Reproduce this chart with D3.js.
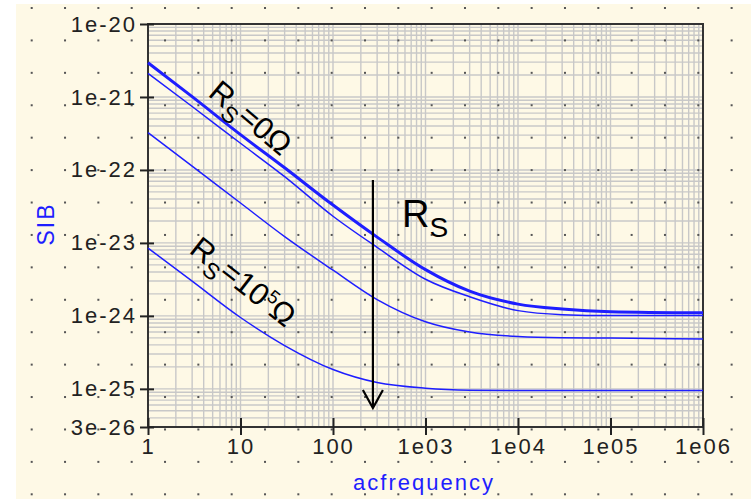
<!DOCTYPE html>
<html>
<head>
<meta charset="utf-8">
<script src="https://cdn.jsdelivr.net/npm/d3@7"></script>
<style>
  body { margin: 0; background: #fff; }
  svg { display: block; }
  text { font-family: "Liberation Sans", Arial, sans-serif; }
</style>
</head>
<body>
<div id="chart"></div>
<script>
// values
var freqs = [1, 3, 10, 30, 100, 300, 1e3, 3e3, 1e4, 3e4, 1e5, 1e6];
var sibRs0 = [2.95e-21, 1.01e-21, 3.05e-22, 1.07e-22, 3.3e-23, 1.2e-23, 4.3e-24, 2.18e-24, 1.45e-24, 1.24e-24, 1.14e-24, 1.10e-24];
var sibRs1 = [2.11e-21, 7.4e-22, 2.32e-22, 8.1e-23, 2.32e-23, 8.7e-24, 3.18e-24, 1.83e-24, 1.18e-24, 1.04e-24, 1.01e-24, 1.01e-24];
var sibRs2 = [3.25e-22, 1.13e-22, 3.52e-23, 1.22e-23, 4.23e-24, 1.67e-24, 8.3e-25, 6.0e-25, 5.2e-25, 5.0e-25, 4.96e-25, 4.83e-25];
var sibRs3 = [8.5e-24, 2.99e-24, 9.5e-25, 3.92e-25, 1.84e-25, 1.22e-25, 1.02e-25, 9.6e-26, 9.5e-26, 9.5e-26, 9.5e-26, 9.48e-26];
var seriesWidths = [3, 1.5, 1.5, 1.5];

var xTickVals = [1, 10, 100, 1e3, 1e4, 1e5, 1e6];
var xTickLabels = ["1", "10", "100", "1e03", "1e04", "1e05", "1e06"];
var yTickVals = [1e-20, 1e-21, 1e-22, 1e-23, 1e-24, 1e-25, 3e-26];
var yTickLabels = ["1e-20", "1e-21", "1e-22", "1e-23", "1e-24", "1e-25", "3e-26"];

const WIDTH = 751;
const HEIGHT = 499;
var plot = {left: 148, right: 703, top: 24, bottom: 427};
var cream = "#fef9e6";
var blue = "#1e1eff";

var svg = d3.select("#chart").append("svg")
    .attr("width", WIDTH)
    .attr("height", HEIGHT);

svg.append("rect")
    .attr("x", 16).attr("y", 4)
    .attr("width", WIDTH - 16).attr("height", HEIGHT - 4)
    .attr("fill", cream);

var x = d3.scaleLog().domain([1, 1e6]).range([plot.left, plot.right]);
var y = d3.scaleLog().domain([3e-26, 1e-20]).range([plot.bottom, plot.top]);

// grid: every 1..9 multiple of each decade
var xGrid = [];
for (var e = 0; e < 6; e++)
    for (var m = 1; m < 10; m++) xGrid.push(m * Math.pow(10, e));
var yGrid = [];
for (var e = -26; e < -20; e++)
    for (var m = 1; m < 10; m++) {
        var v = m * Math.pow(10, e);
        if (v > 3.01e-26 && v < 0.99e-20) yGrid.push(v);
    }

var grid = svg.append("g").attr("stroke", "#c8c8c8").attr("stroke-width", 1.4);
grid.selectAll(".gx").data(xGrid).enter().append("line")
    .attr("x1", d => x(d)).attr("x2", d => x(d))
    .attr("y1", plot.top).attr("y2", plot.bottom);
grid.selectAll(".gy").data(yGrid).enter().append("line")
    .attr("x1", plot.left).attr("x2", plot.right)
    .attr("y1", d => y(d)).attr("y2", d => y(d));

// dotted background pattern
var dots = [];
for (var i = 0; i < 22; i++)
    for (var j = 0; j < 16; j++) dots.push([31.7 + i * 33.33, 8 + j * 32.42]);
svg.append("g").selectAll("rect").data(dots).enter().append("rect")
    .attr("x", d => d[0] - 1).attr("y", d => d[1] - 1)
    .attr("width", 2).attr("height", 2)
    .attr("fill", "#555");

// frame
svg.append("rect")
    .attr("x", plot.left).attr("y", plot.top)
    .attr("width", plot.right - plot.left).attr("height", plot.bottom - plot.top)
    .attr("fill", "none").attr("stroke", "#333").attr("stroke-width", 2);

// axes
var yAxis = svg.append("g")
    .attr("transform", "translate(" + plot.left + ",0)")
    .call(d3.axisLeft(y).tickValues(yTickVals)
        .tickFormat((d, i) => yTickLabels[i])
        .tickSizeInner(8).tickSizeOuter(0).tickPadding(3));
yAxis.select(".domain").remove();
yAxis.selectAll(".tick line").attr("x1", 6).attr("stroke", "#222").attr("stroke-width", 2);

var xAxis = svg.append("g")
    .attr("transform", "translate(0," + plot.bottom + ")")
    .call(d3.axisBottom(x).tickValues(xTickVals)
        .tickFormat((d, i) => xTickLabels[i])
        .tickSizeInner(8).tickSizeOuter(0).tickPadding(3));
xAxis.select(".domain").remove();
xAxis.selectAll(".tick line").attr("y1", -9).attr("stroke", "#222").attr("stroke-width", 2);

svg.selectAll(".tick text")
    .attr("font-size", 22)
    .attr("font-family", "'Liberation Sans', Arial, sans-serif")
    .attr("letter-spacing", 2)
    .attr("fill", "#222");

// axis titles
svg.append("text")
    .attr("x", 424).attr("y", 490)
    .attr("text-anchor", "middle")
    .attr("font-size", 22).attr("letter-spacing", 2)
    .attr("fill", blue)
    .text("acfrequency");

svg.append("text")
    .attr("transform", "translate(54,224) rotate(-90)")
    .attr("text-anchor", "middle")
    .attr("font-size", 23).attr("letter-spacing", 2)
    .attr("fill", blue)
    .text("SIB");

// curves
var allSeries = [sibRs0, sibRs1, sibRs2, sibRs3];
var line = d3.line()
    .x(d => x(d[0]))
    .y(d => y(d[1]))
    .curve(d3.curveMonotoneX);

svg.append("g").selectAll("path").data(allSeries).enter().append("path")
    .attr("d", s => line(freqs.map((f, i) => [f, s[i]])))
    .attr("fill", "none")
    .attr("stroke", blue)
    .attr("stroke-width", (d, i) => seriesWidths[i]);

// annotations
function rsLabel(px, py, angle, size, rest, sup) {
    var t = svg.append("text")
        .attr("transform", "translate(" + px + "," + py + ") rotate(" + angle + ")")
        .attr("font-size", size)
        .attr("fill", "#000");
    t.append("tspan").text("R");
    t.append("tspan").attr("font-size", size * 0.74).attr("dy", size * 0.27).text("S");
    if (rest !== null) {
        t.append("tspan").attr("dy", -size * 0.27).text(rest);
        if (sup) {
            t.append("tspan").attr("font-size", size * 0.6).attr("dy", -size * 0.35).text(sup);
            t.append("tspan").attr("dy", size * 0.35).text("Ω");
        }
    }
    return t;
}

rsLabel(207, 95, 40, 31, "=0Ω", null);
rsLabel(188, 252, 38, 31, "=10", "5");
rsLabel(402, 227, 0, 38, null, null);

var arrowX = x(270);
var arrow = svg.append("g").attr("stroke", "#000").attr("stroke-width", 2.2).attr("fill", "none");
arrow.append("line")
    .attr("x1", arrowX).attr("x2", arrowX)
    .attr("y1", 180).attr("y2", 407);
arrow.append("path")
    .attr("d", "M" + (arrowX - 10) + ",390 L" + arrowX + ",408 L" + (arrowX + 10) + ",390");
</script>
</body>
</html>
